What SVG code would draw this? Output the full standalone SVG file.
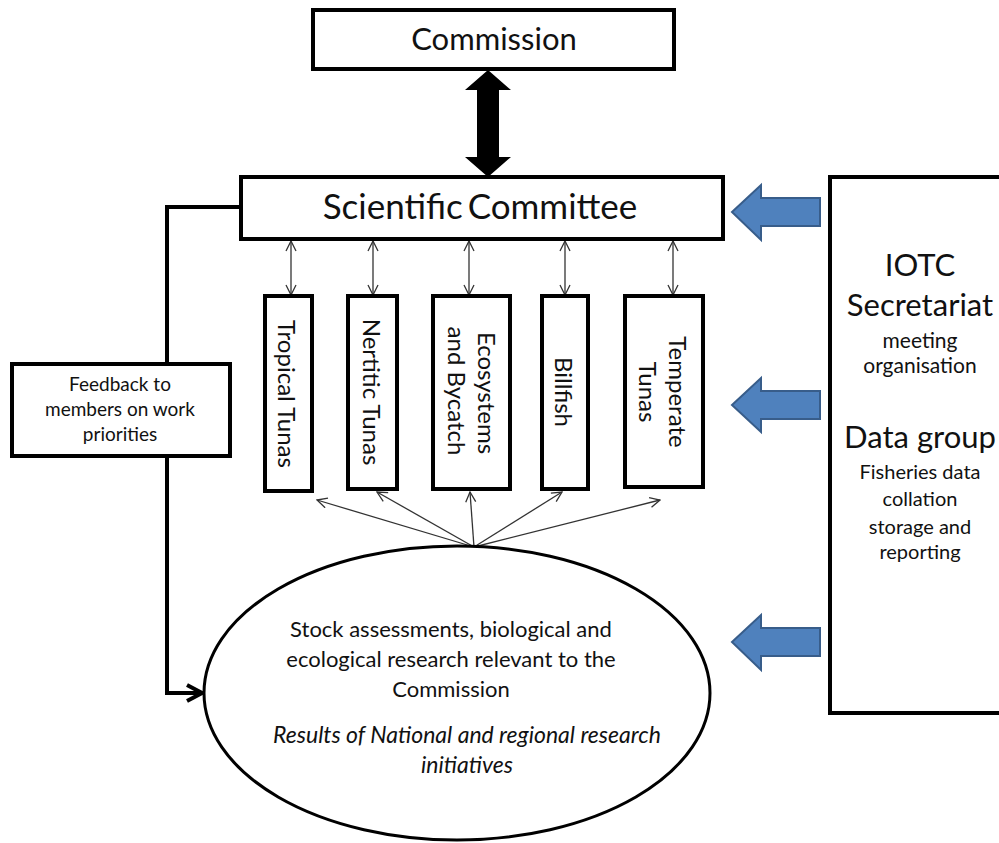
<svg xmlns="http://www.w3.org/2000/svg" width="999" height="843" viewBox="0 0 999 843">
<defs>
<style>
.box{fill:#fff;stroke:#000;stroke-width:4}
.t{font-family:Lato,"Open Sans","DejaVu Sans",sans-serif;fill:#111;text-anchor:middle}
.thin{stroke:#333;stroke-width:1.3;fill:none}
.blue{fill:#4F81BD;stroke:#385D8A;stroke-width:2}
.thick{stroke:#000;stroke-width:4;fill:none}
</style>
<marker id="ah" viewBox="0 0 12 12" refX="11" refY="6" markerWidth="12" markerHeight="12" markerUnits="userSpaceOnUse" orient="auto-start-reverse">
<path d="M1,1 L11,6 L1,11" fill="none" stroke="#333" stroke-width="1.3"/>
</marker>
<marker id="ahb" viewBox="0 0 20 20" refX="18" refY="10" markerWidth="20" markerHeight="20" markerUnits="userSpaceOnUse" orient="auto">
<path d="M3,2 L18,10 L3,18" fill="none" stroke="#000" stroke-width="4"/>
</marker>
</defs>
<rect width="999" height="843" fill="#fff"/>

<g id="connectors">
<polygon points="488,70 511,90 499,90 499,157 511,157 488,177 465,157 477,157 477,90 465,90" fill="#000"/>
<line class="thin" x1="291" y1="241" x2="291" y2="295" marker-start="url(#ah)" marker-end="url(#ah)"/>
<line class="thin" x1="373" y1="241" x2="373" y2="295" marker-start="url(#ah)" marker-end="url(#ah)"/>
<line class="thin" x1="469" y1="241" x2="469" y2="295" marker-start="url(#ah)" marker-end="url(#ah)"/>
<line class="thin" x1="565" y1="241" x2="565" y2="295" marker-start="url(#ah)" marker-end="url(#ah)"/>
<line class="thin" x1="673" y1="241" x2="673" y2="295" marker-start="url(#ah)" marker-end="url(#ah)"/>
<line class="thin" x1="474" y1="547" x2="317" y2="500" marker-end="url(#ah)"/>
<line class="thin" x1="474" y1="547" x2="377" y2="492" marker-end="url(#ah)"/>
<line class="thin" x1="474" y1="547" x2="470" y2="492" marker-end="url(#ah)"/>
<line class="thin" x1="474" y1="547" x2="562" y2="492" marker-end="url(#ah)"/>
<line class="thin" x1="474" y1="547" x2="660" y2="500" marker-end="url(#ah)"/>
<path class="thick" d="M241,207 H167 V364"/>
<path class="thick" d="M167,456 V693 H202" marker-end="url(#ahb)"/>
<polygon class="blue" points="732,212 761,185 761,198 820,198 820,226 761,226 761,240"/>
<polygon class="blue" points="732,405 761,378 761,391 820,391 820,419 761,419 761,432"/>
<polygon class="blue" points="732,642 761,615 761,628 820,628 820,656 761,656 761,670"/>
</g>

<g id="commission">
<rect class="box" x="313" y="10" width="361" height="59"/>
<text class="t" x="494" y="50" font-size="31">Commission</text>
</g>

<g id="scientific-committee">
<rect class="box" x="241" y="177" width="482" height="62"/>
<text class="t" x="480" y="219" font-size="35" word-spacing="-4">Scientific Committee</text>
</g>

<g id="tropical-tunas">
<rect class="box" x="265" y="296" width="47" height="195"/>
<text class="t" font-size="24" transform="translate(278,394) rotate(90)">Tropical Tunas</text>
</g>

<g id="neritic-tunas">
<rect class="box" x="348" y="296" width="49" height="193"/>
<text class="t" font-size="24" transform="translate(363,392) rotate(90)">Nertitic Tunas</text>
</g>

<g id="ecosystems">
<rect class="box" x="433" y="296" width="77" height="193"/>
<text class="t" font-size="24" transform="translate(478,393) rotate(90)">Ecosystems</text>
<text class="t" font-size="24" transform="translate(448,391) rotate(90)">and Bycatch</text>
</g>

<g id="billfish">
<rect class="box" x="542" y="296" width="46" height="193"/>
<text class="t" font-size="24" transform="translate(555,392) rotate(90)">Billfish</text>
</g>

<g id="temperate-tunas">
<rect class="box" x="625" y="296" width="78" height="191"/>
<text class="t" font-size="24" transform="translate(669,392) rotate(90)">Temperate</text>
<text class="t" font-size="24" transform="translate(639,392) rotate(90)">Tunas</text>
</g>

<g id="feedback">
<rect class="box" x="12" y="364" width="218" height="92"/>
<text class="t" font-size="19" x="120" y="391">Feedback to</text>
<text class="t" font-size="19" x="120" y="416">members on work</text>
<text class="t" font-size="19" x="120" y="441">priorities</text>
</g>

<g id="research">
<ellipse cx="457" cy="693" rx="253" ry="147" fill="#fff" stroke="#000" stroke-width="3"/>
<text class="t" font-size="22" x="451" y="637">Stock assessments, biological and</text>
<text class="t" font-size="22" x="451" y="667">ecological research relevant to the</text>
<text class="t" font-size="22" x="451" y="697">Commission</text>
<text class="t" font-size="23" font-style="italic" x="467" y="743">Results of National and regional research</text>
<text class="t" font-size="23" font-style="italic" x="467" y="773">initiatives</text>
</g>

<g id="iotc-secretariat">
<rect class="box" x="830" y="177" width="190" height="536"/>
<text class="t" font-size="31" x="920" y="276">IOTC</text>
<text class="t" font-size="31" x="920" y="316">Secretariat</text>
<text class="t" font-size="21" x="920" y="348">meeting</text>
<text class="t" font-size="21" x="920" y="373">organisation</text>
<text class="t" font-size="31" x="920" y="448">Data group</text>
<text class="t" font-size="20" x="920" y="479">Fisheries data</text>
<text class="t" font-size="20" x="920" y="506">collation</text>
<text class="t" font-size="20" x="920" y="534">storage and</text>
<text class="t" font-size="20" x="920" y="559">reporting</text>
</g>
</svg>
